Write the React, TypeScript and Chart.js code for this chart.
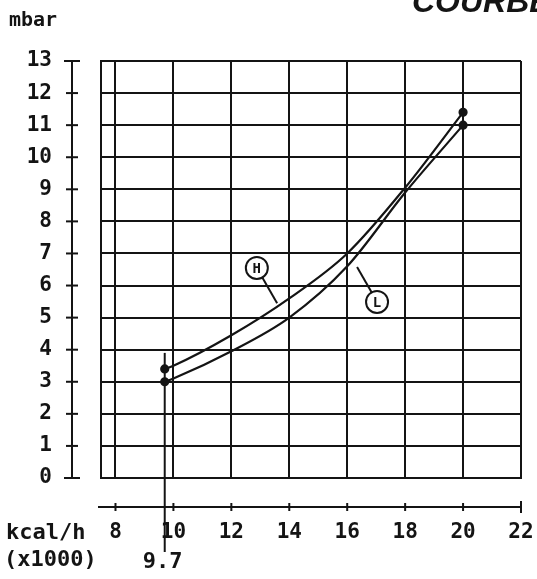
import React, { useEffect, useRef } from "react";
import { Chart, registerables } from "chart.js";

Chart.register(...registerables);

// ---- data ----
const pointsX = [9.7, 10, 12, 14, 16, 18, 20];
const seriesH = [3.4, 3.5, 4.45, 5.6, 7.0, 9.05, 11.4];
const seriesL = [3.0, 3.1, 3.95, 5.0, 6.6, 8.9, 11.0];
const xTicks = [8, 10, 12, 14, 16, 18, 20, 22];
const yTicks = [0, 1, 2, 3, 4, 5, 6, 7, 8, 9, 10, 11, 12, 13];
const xMin = 7.5;
const xMax = 22;
const yMin = 0;
const yMax = 13;
const markerX = 9.7;
const markerTopY = 3.9;
const markerLabel = "9.7";
const title = "COURBES";
const yUnit = "mbar";
const xUnit1 = "kcal/h";
const xUnit2 = "(x1000)";
// callouts: circle centre (cx, cy) and leader end (lx, ly), in data units
const calloutH = { text: "H", cx: 12.88, cy: 6.55, lx: 13.58, ly: 5.45 };
const calloutL = { text: "L", cx: 17.03, cy: 5.49, lx: 16.34, ly: 6.58 };

const INK = "#141414";
const MONO = '"DejaVu Sans Mono", monospace';

const overlay = {
  id: "overlay",
  afterDraw(chart: any) {
    const { ctx, chartArea, scales } = chart;
    const x = scales.x;
    const y = scales.y;
    const line = (x1: number, y1: number, x2: number, y2: number) => {
      ctx.beginPath();
      ctx.moveTo(x1, y1);
      ctx.lineTo(x2, y2);
      ctx.stroke();
    };
    ctx.save();
    ctx.strokeStyle = INK;
    ctx.fillStyle = INK;
    ctx.lineWidth = 2;
    ctx.lineCap = "butt";

    // detached y axis
    const ax = chartArea.left - 29;
    line(ax, y.getPixelForValue(yMax) - 1, ax, y.getPixelForValue(yMin) + 1);
    yTicks.forEach((v) => {
      const py = y.getPixelForValue(v);
      const w = v === yMin || v === yMax ? 8 : 6;
      line(ax - w, py, ax + w, py);
    });

    // detached x axis
    const ay = chartArea.bottom + 29;
    line(x.getPixelForValue(xMin) - 3, ay, x.getPixelForValue(xMax), ay);
    xTicks.forEach((v) => {
      const px = x.getPixelForValue(v);
      const w = v === xMax ? 6 : 4;
      line(px, ay - w, px, ay + w);
    });

    // 9.7 marker line
    const mx = x.getPixelForValue(markerX);
    line(mx, y.getPixelForValue(markerTopY), mx, chartArea.bottom + 74);

    // callouts
    [calloutH, calloutL].forEach((c) => {
      const cx = x.getPixelForValue(c.cx);
      const cy = y.getPixelForValue(c.cy);
      const lx = x.getPixelForValue(c.lx);
      const ly = y.getPixelForValue(c.ly);
      const r = 11;
      const ang = Math.atan2(ly - cy, lx - cx);
      line(cx + r * Math.cos(ang), cy + r * Math.sin(ang), lx, ly);
      ctx.beginPath();
      ctx.arc(cx, cy, r, 0, Math.PI * 2);
      ctx.fillStyle = "#fff";
      ctx.fill();
      ctx.stroke();
      ctx.fillStyle = INK;
      ctx.font = `bold 14px ${MONO}`;
      ctx.textAlign = "center";
      ctx.textBaseline = "middle";
      ctx.fillText(c.text, cx, cy + 1);
    });

    // texts
    ctx.fillStyle = INK;
    ctx.textAlign = "left";
    ctx.textBaseline = "middle";
    ctx.font = `bold 20px ${MONO}`;
    ctx.fillText(yUnit, 9, 21);
    ctx.font = `bold 22px ${MONO}`;
    ctx.fillText(xUnit1, 6, 533);
    ctx.fillText(xUnit2, 4, 560);
    ctx.textAlign = "center";
    ctx.fillText(markerLabel, mx - 2, 562);

    ctx.textAlign = "left";
    ctx.textBaseline = "alphabetic";
    ctx.font = 'italic bold 32px "Liberation Sans", Arial, sans-serif';
    ctx.fillText(title, 412, 12);
    ctx.restore();
  },
};

export default function App() {
  const ref = useRef<HTMLCanvasElement | null>(null);

  useEffect(() => {
    if (!ref.current) return;
    const mk = (vals: number[]) => pointsX.map((px, i) => ({ x: px, y: vals[i] }));
    const last = pointsX.length - 1;
    const ds = (label: string, vals: number[]) => ({
      label,
      data: mk(vals),
      borderColor: INK,
      borderWidth: 2.2,
      backgroundColor: INK,
      pointBackgroundColor: INK,
      pointBorderColor: INK,
      pointRadius: (c: any) => (c.dataIndex === 0 || c.dataIndex === last ? 3.5 : 0),
      cubicInterpolationMode: "monotone" as const,
      fill: false,
    });
    const tickFont = { family: MONO, size: 21, weight: "bold" as const };
    const chart = new Chart(ref.current, {
      type: "line",
      data: { datasets: [ds("H", seriesH), ds("L", seriesL)] },
      options: {
        animation: false,
        responsive: false,
        devicePixelRatio: 1,
        events: [],
        layout: { padding: { left: 0, top: 61, right: 16, bottom: 0 } },
        plugins: { legend: { display: false }, tooltip: { enabled: false }, title: { display: false } },
        scales: {
          x: {
            type: "linear",
            min: xMin,
            max: xMax,
            afterBuildTicks: (s: any) => {
              s.ticks = xTicks.map((v) => ({ value: v }));
            },
            afterFit: (s: any) => {
              s.height = 101;
              s.paddingLeft = 0;
              s.paddingRight = 0;
            },
            grid: { color: INK, lineWidth: 2, drawTicks: false },
            border: { display: true, color: INK, width: 2 },
            ticks: { color: INK, font: tickFont, padding: 42, autoSkip: false, maxRotation: 0 },
          },
          y: {
            type: "linear",
            min: yMin,
            max: yMax,
            afterBuildTicks: (s: any) => {
              s.ticks = yTicks.map((v) => ({ value: v }));
            },
            afterFit: (s: any) => {
              s.width = 101;
              s.paddingTop = 0;
              s.paddingBottom = 0;
            },
            grid: { color: INK, lineWidth: 2, drawTicks: false },
            border: { display: true, color: INK, width: 2 },
            ticks: { color: INK, font: tickFont, padding: 49, autoSkip: false },
          },
        },
      },
      plugins: [overlay],
    });
    return () => chart.destroy();
  }, []);

  return (
    <div style={{ position: "absolute", left: 0, top: 0, width: 537, height: 579, background: "#fff", overflow: "hidden" }}>
      <canvas ref={ref} width={537} height={579} style={{ display: "block" }} />
    </div>
  );
}
